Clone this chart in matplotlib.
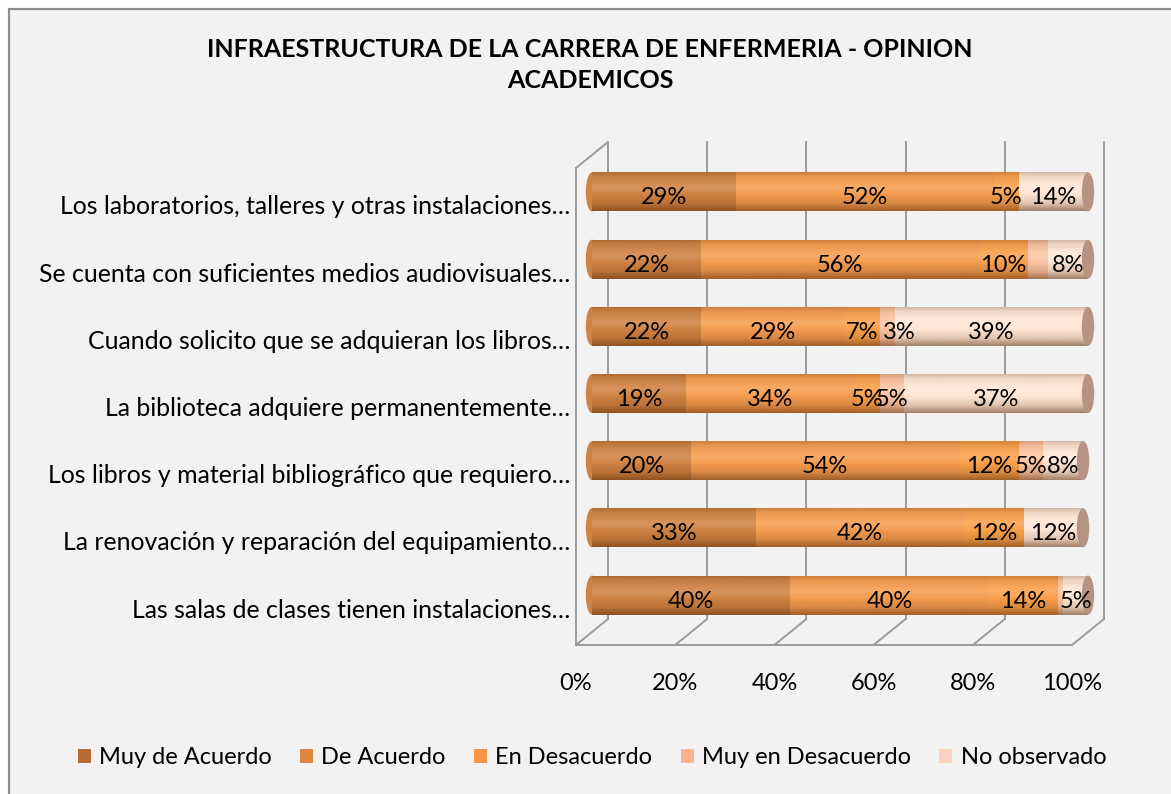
import numpy as np
import matplotlib
matplotlib.use("Agg")
import matplotlib.pyplot as plt
from matplotlib.patches import Rectangle, Ellipse, ConnectionPatch, Patch
from matplotlib.transforms import offset_copy
from matplotlib.colors import to_rgb

plt.rcParams['font.family'] = ['Lato', 'DejaVu Sans']

# ---------------- data ----------------
title = "INFRAESTRUCTURA DE LA CARRERA DE ENFERMERIA - OPINION\nACADEMICOS"
categories = [
    "Los laboratorios, talleres y otras instalaciones…",
    "Se cuenta con suficientes medios audiovisuales…",
    "Cuando solicito que se adquieran los libros…",
    "La biblioteca adquiere permanentemente…",
    "Los libros y material bibliográfico que requiero…",
    "La renovación y reparación del equipamiento…",
    "Las salas de clases tienen instalaciones…",
]
series_names = ["Muy de Acuerdo", "De Acuerdo", "En Desacuerdo",
                "Muy en Desacuerdo", "No observado"]
muy_de_acuerdo = [29, 22, 22, 19, 20, 33, 40]
de_acuerdo = [52, 56, 29, 34, 54, 42, 40]
en_desacuerdo = [5, 10, 7, 5, 12, 12, 14]
muy_en_desacuerdo = [0, 4, 3, 5, 5, 0, 1]
no_observado = [14, 8, 39, 37, 8, 12, 5]
# labels not shown in the original (category index, series index)
hidden_labels = [(1, 3), (6, 3)]
x_ticks = [0, 20, 40, 60, 80, 100]
x_ticklabels = ["0%", "20%", "40%", "60%", "80%", "100%"]

# ---------------- style ----------------
series = [muy_de_acuerdo, de_acuerdo, en_desacuerdo, muy_en_desacuerdo, no_observado]
bar_colors = ['#CF8241', '#F59C50', '#FAA04A', '#FCC5A3', '#FEE6D6']
legend_colors = ['#B96B33', '#DE853F', '#F79646', '#FAB48E', '#FBD0BC']
cap_color = '#B59385'
grid_color = '#9A9A9A'
label_nudge_px = {(2, 3): 12}  # label moved aside in the original to avoid overlap
FS = 17

W, H = 1171, 794
fig = plt.figure(figsize=(W / 100, H / 100), dpi=100)
fig.patch.set_facecolor('white')
fig.patches.append(Rectangle((8.5 / W, -0.1), 1.2, 1.1 - 8.5 / H,
                             transform=fig.transFigure, facecolor='#F2F2F2',
                             edgecolor='#8C8C8C', lw=1.6, zorder=-10))

ax = fig.add_axes([576 / W, 1 - 645 / H, 496 / W, 477 / H])
ax.set_facecolor('none')
for s in ax.spines.values():
    s.set_visible(False)

n = len(categories)
ypos = np.arange(n)[::-1]  # first category at top
ax.set_xlim(0, 100)
ax.set_ylim(-0.55, n - 1 + 0.55)

back = offset_copy(ax.transData, fig=fig, x=32, y=26, units='dots')
mid = offset_copy(ax.transData, fig=fig, x=16, y=13, units='dots')

ylo, yhi = ax.get_ylim()
# back wall gridlines + floor diagonals
for xv in x_ticks:
    ax.plot([xv, xv], [ylo, yhi], color=grid_color, lw=1.4, transform=back,
            clip_on=False, zorder=1)
    ax.add_artist(ConnectionPatch((xv, ylo), (xv, ylo), coordsA=ax.transData,
                                  coordsB=back, color=grid_color, lw=1.4, zorder=1))
ax.plot([0, 100], [ylo, ylo], color=grid_color, lw=1.4, clip_on=False, zorder=1)
ax.plot([0, 0], [ylo, yhi], color=grid_color, lw=1.4, clip_on=False, zorder=1)
ax.add_artist(ConnectionPatch((0, yhi), (0, yhi), coordsA=ax.transData,
                              coordsB=back, color=grid_color, lw=1.4, zorder=1))

bh = 0.58
cap_w = 2.5
totals = np.sum(np.array(series), axis=0)
for i in range(n):
    ax.add_patch(Ellipse((0, ypos[i]), cap_w, bh, transform=mid,
                         facecolor=bar_colors[0], edgecolor='none', zorder=2,
                         clip_on=False))

left = np.zeros(n)
for k, vals in enumerate(series):
    vals = np.array(vals, dtype=float)
    bars = ax.barh(ypos, vals, left=left, height=bh, color=bar_colors[k],
                   edgecolor='none', transform=mid, zorder=3)
    for b in bars:
        b.set_clip_on(False)
    for i in range(n):
        if vals[i] > 0 and (i, k) not in hidden_labels:
            tr = offset_copy(ax.transData, fig=fig,
                             x=16 + label_nudge_px.get((i, k), 0), y=7, units='dots')
            ax.text(left[i] + vals[i] / 2, ypos[i], f"{int(vals[i])}%",
                    transform=tr, ha='center', va='center', fontsize=FS,
                    color='black', zorder=6, clip_on=False)
    left += vals

# cylinder shading (dark warm overlay + soft highlight)
t = np.linspace(0, 1, 80)
a_dark = np.interp(t, [0, 0.1, 0.3, 0.55, 0.8, 1.0], [0.25, 0.1, 0.0, 0.0, 0.18, 0.55])
a_light = np.interp(t, [0, 0.2, 0.4, 0.6, 1.0], [0.0, 0.06, 0.14, 0.0, 0.0])
dark = np.zeros((80, 1, 4))
dark[:, 0, :3] = to_rgb('#5A2C0C')
dark[:, 0, 3] = a_dark
light = np.ones((80, 1, 4))
light[:, 0, 3] = a_light
for i in range(n):
    for g in (dark, light):
        im = ax.imshow(g, extent=(0, totals[i], ypos[i] - bh / 2, ypos[i] + bh / 2),
                       transform=mid, aspect='auto', interpolation='bilinear', zorder=4)
        im.set_clip_on(False)
    ax.add_patch(Ellipse((totals[i], ypos[i]), cap_w, bh, transform=mid,
                         facecolor=cap_color, edgecolor='none', zorder=5, clip_on=False))

ax.set_xlim(0, 100)
ax.set_ylim(ylo, yhi)
ax.set_xticks(x_ticks)
ax.set_xticklabels(x_ticklabels, fontsize=FS)
ax.set_yticks(ypos)
ax.set_yticklabels(categories, fontsize=17.9)
ax.tick_params(axis='x', length=0, pad=20)
ax.tick_params(axis='y', length=0, pad=4)

fig.text(590 / W, 1 - 65 / H, title, ha='center', va='center', fontsize=18,
         fontweight='bold', linespacing=1.45)

handles = [Patch(facecolor=c, edgecolor='none') for c in legend_colors]
fig.legend(handles, series_names, loc='center', bbox_to_anchor=(592 / W, 1 - 758 / H),
           ncol=5, frameon=False, fontsize=FS, handlelength=0.55, handleheight=0.55,
           handletextpad=0.35, columnspacing=1.2)

fig.savefig("out.png", dpi=100, facecolor=fig.get_facecolor())
